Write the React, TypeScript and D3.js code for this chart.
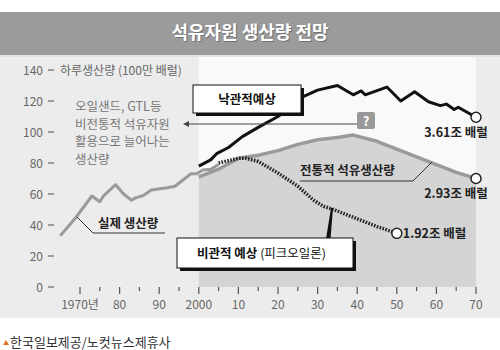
import React from "react";
import * as d3 from "d3";

const actualYears = [1965, 1969, 1973, 1975, 1976, 1979, 1981, 1983, 1984, 1986, 1988, 1992, 1994, 1996, 1998, 1999.5, 2001, 2003, 2005];
const actualValues = [33, 45, 58.7, 55, 59, 66, 60, 56, 57.5, 59, 62.6, 64, 65, 69, 73, 73, 75.5, 76, 79];

const optimisticYears = [2000, 2003, 2004.5, 2007.5, 2011, 2015, 2020, 2023, 2026.5, 2030, 2035, 2039, 2041, 2042, 2047.5, 2051, 2054.5, 2058, 2061, 2062.5, 2064.5, 2065.5, 2070];
const optimisticValues = [78, 82, 86, 90, 97, 103, 110, 116, 123, 127, 130, 124, 126.5, 124, 129, 120, 126, 119.5, 117, 118, 114.5, 116, 109.5];

const conventionalYears = [2000, 2005, 2010, 2015, 2020, 2025, 2030, 2035, 2039, 2045, 2050, 2055, 2060, 2065, 2070];
const conventionalValues = [71, 76, 83, 85, 88, 92, 95, 96.5, 98, 94, 89, 84, 79, 74, 70];

const pessimisticYears = [2005, 2010, 2012, 2015, 2020, 2025, 2029, 2031.5, 2034, 2040, 2045, 2050];
const pessimisticValues = [80, 83, 83, 81, 73.5, 65, 56, 52, 50, 44, 39, 34.6];

const yTicks = [0, 20, 40, 60, 80, 100, 120, 140];
const xMajorTicks = [1970, 1980, 1990, 2000, 2010, 2020, 2030, 2040, 2050, 2060, 2070];
const xTickLabels = ["1970년", "80", "90", "2000", "10", "20", "30", "40", "50", "60", "70"];
const xMinorTicks = [1975, 1985, 1995, 2005, 2015, 2025, 2035, 2045, 2055, 2065];

const titleText = "석유자원 생산량 전망";
const yAxisTitle = "하루생산량 (100만 배럴)";
const noteLines = ["오일샌드, GTL등", "비전통적 석유자원", "활용으로 늘어나는", "생산량"];
const endLabels = ["3.61조 배럴", "2.93조 배럴", "1.92조 배럴"];
const footerText = "한국일보제공/노컷뉴스제휴사";

const FONT = "'Noto Sans CJK KR', 'Noto Sans', sans-serif";

export default function App() {
  const x = d3.scaleLinear().domain([1970, 2070]).range([80, 476]);
  const y = d3.scaleLinear().domain([0, 140]).range([287, 70]);

  const zip = (xs: number[], vs: number[]) => xs.map((d, i) => [d, vs[i]] as [number, number]);
  const line = d3.line<[number, number]>().x((d) => x(d[0])).y((d) => y(d[1]));

  const actual = zip(actualYears, actualValues);
  const opt = zip(optimisticYears, optimisticValues);
  const conv = zip(conventionalYears, conventionalValues);
  const pes = zip(pessimisticYears, pessimisticValues);

  const shadedArea = d3
    .area<[number, number]>()
    .x((d) => x(d[0]))
    .y0(y(0))
    .y1((d) => y(d[1]))(conv) as string;
  const whiteArea = d3
    .area<[number, number]>()
    .x((d) => x(d[0]))
    .y0(57)
    .y1((d) => y(d[1]))(conv) as string;

  const optEnd = opt[opt.length - 1];
  const convEnd = conv[conv.length - 1];
  const pesEnd = pes[pes.length - 1];

  return (
    <svg width={500} height={350} style={{ position: "absolute", left: 0, top: 0, fontFamily: FONT }}>
      <rect x={0} y={0} width={500} height={350} fill="#ffffff" />
      {/* title bar */}
      <rect x={0} y={12} width={500} height={43} fill="#9b9b9b" />
      <text x={251} y={40} textAnchor="middle" fontSize={18} fontWeight="bold" fill="#555" opacity={0.6}>{titleText}</text>
      <text x={250} y={39} textAnchor="middle" fontSize={18} fontWeight="bold" fill="#ffffff">{titleText}</text>
      {/* panel */}
      <rect x={0} y={55} width={500} height={263} fill="#ececec" />
      <rect x={0} y={55} width={500} height={2} fill="#e2e2e2" />
      <path d={whiteArea} fill="#f9f9f9" />
      <path d={shadedArea} fill="#d4d4d4" />

      {/* y axis */}
      {yTicks.map((t) => (
        <g key={t}>
          <text x={43} y={y(t) + 4.5} textAnchor="end" fontSize={12} fill="#666">{t}</text>
          <line x1={48} x2={54} y1={y(t)} y2={y(t)} stroke="#666" strokeWidth={1.2} />
        </g>
      ))}
      <text x={60} y={y(140) + 4.5} fontSize={12} fill="#666">{yAxisTitle}</text>

      {/* x axis */}
      {xMajorTicks.map((t, i) => (
        <g key={t}>
          <line x1={x(t)} x2={x(t)} y1={287} y2={294} stroke="#555" strokeWidth={1.2} />
          <text x={x(t)} y={309} textAnchor="middle" fontSize={12} fill="#666">{xTickLabels[i]}</text>
        </g>
      ))}
      {xMinorTicks.map((t) => (
        <line key={t} x1={x(t)} x2={x(t)} y1={287} y2={291} stroke="#555" strokeWidth={1.2} />
      ))}

      {/* lines */}
      <path d={line(actual) as string} fill="none" stroke="#9a9a9a" strokeWidth={3} strokeLinejoin="round" />
      <path d={line(conv) as string} fill="none" stroke="#9a9a9a" strokeWidth={3.5} strokeLinejoin="round" />
      <path d={line(pes) as string} fill="none" stroke="#222" strokeWidth={3.5} strokeDasharray="1.6 1.4" />
      <path d={line(opt) as string} fill="none" stroke="#111" strokeWidth={3} strokeLinejoin="round" />

      {/* end circles */}
      {[optEnd, convEnd, pesEnd].map((d, i) => (
        <circle key={i} cx={x(d[0])} cy={y(d[1])} r={5} fill="#fff" stroke="#222" strokeWidth={1.5} />
      ))}
      <text x={456} y={y(optEnd[1]) + 20} textAnchor="middle" fontSize={12.5} fontWeight="bold" fill="#222">{endLabels[0]}</text>
      <text x={456} y={y(convEnd[1]) + 19} textAnchor="middle" fontSize={12.5} fontWeight="bold" fill="#222">{endLabels[1]}</text>
      <text x={x(pesEnd[0]) + 6} y={y(pesEnd[1]) + 4.5} fontSize={12.5} fontWeight="bold" fill="#222">{endLabels[2]}</text>

      {/* note text */}
      {noteLines.map((l, i) => (
        <text key={i} x={75} y={111 + i * 17.5} fontSize={12.5} fill="#777">{l}</text>
      ))}
      <line x1={186} x2={357} y1={124} y2={124} stroke="#444" strokeWidth={1} />
      <path d="M183,124 L189,121 L189,127 Z" fill="#444" />
      <rect x={357} y={112} width={18} height={17} rx={2} fill="#999" />
      <text x={366} y={125.5} textAnchor="middle" fontSize={13} fontWeight="bold" fill="#fff">?</text>

      {/* optimistic box */}
      <rect x={196} y={88} width={108} height={28} fill="#111" />
      <rect x={193} y={85} width={108} height={28} fill="#fff" stroke="#111" strokeWidth={1} />
      <text x={247} y={103.5} textAnchor="middle" fontSize={12.5} fontWeight="bold" fill="#111">낙관적예상</text>

      {/* conventional label */}
      <text x={300} y={174.5} fontSize={12.5} fontWeight="bold" fill="#222">전통적 석유생산량</text>
      <polyline points="300,181 413,181 432,162" fill="none" stroke="#333" strokeWidth={1} />

      {/* actual label */}
      <text x={98} y={227.5} fontSize={12.5} fontWeight="bold" fill="#222">실제 생산량</text>
      <polyline points="77,217 93,233 165,233" fill="none" stroke="#333" strokeWidth={1} />

      {/* pessimistic box */}
      <path d="M326,239 L331,208 L333,208 L330.5,239 Z" fill="#111" />
      <rect x={180} y={241} width={176} height={30} fill="#111" />
      <rect x={177} y={238} width={176} height={30} fill="#fff" stroke="#111" strokeWidth={1} />
      <text x={197} y={257.5} fontSize={12.5} fill="#111">
        <tspan fontWeight="bold">비관적 예상</tspan>
        <tspan> (피크오일론)</tspan>
      </text>

      {/* footer */}
      <path d="M3,345 L6,340 L9,345 Z" fill="#e07020" />
      <text x={10} y={347} fontSize={13} fill="#333">{footerText}</text>
    </svg>
  );
}
